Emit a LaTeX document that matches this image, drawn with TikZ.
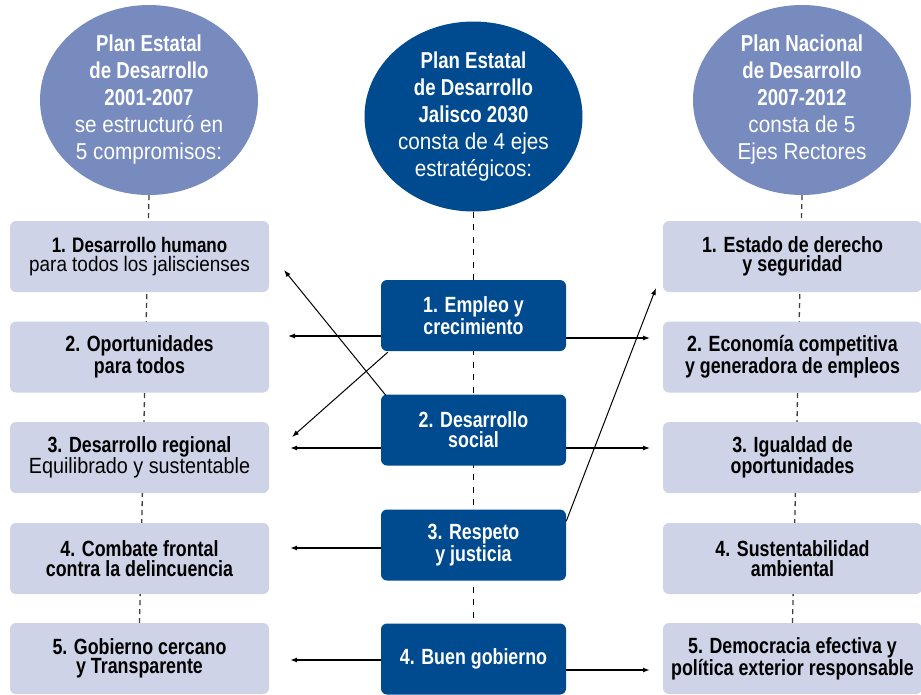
\documentclass[tikz,border=0pt]{standalone}
\usepackage{fontspec}
\setmainfont{Liberation Sans}
\newfontfamily\fcb{Liberation Sans}[FakeStretch=0.81]
\newfontfamily\fcr{Liberation Sans}[FakeStretch=0.9]
\usetikzlibrary{shapes.geometric,arrows.meta,calc,backgrounds}
\definecolor{ellside}{HTML}{778BBE}
\definecolor{navy}{HTML}{004A8F}
\definecolor{lightbox}{HTML}{CED3E7}
\newcommand{\rg}{\fcr\mdseries}
\begin{document}
\begin{tikzpicture}[x=1pt,y=-1pt,
  sidebox/.style={rectangle, rounded corners=6pt, fill=lightbox, minimum width=259pt,
    minimum height=71pt, inner sep=0pt, align=center, text=black,
    font=\fcb\bfseries\fontsize{22}{19.5}\selectfont},
  midbox/.style={rectangle, rounded corners=6pt, fill=navy, minimum width=185pt,
    minimum height=71pt, inner sep=0pt, align=center, text=white,
    font=\fcb\bfseries\fontsize{22}{20}\selectfont},
  plan/.style={ellipse, minimum width=218pt, minimum height=190pt, inner sep=0pt,
    align=center, text=white, font=\fcb\bfseries\fontsize{23}{27}\selectfont},
  arr/.style={-{Latex[length=7pt,width=5pt]}, line width=1.2pt, draw=black},
  darr/.style={-{Latex[length=7pt,width=5pt]}, line width=1pt, draw=black},
  sdash/.style={dash pattern=on 5pt off 4pt, line width=1.3pt, draw=black!75},
  cdash/.style={dash pattern=on 6pt off 6.5pt, line width=1.2pt, draw=black}]
\useasboundingbox (0,0) rectangle (921,694);

% ellipses
\node[plan, fill=ellside] (el) at (149,100)
  {Plan Estatal\\de Desarrollo\\2001-2007\\\rg se estructuró en\\\rg 5 compromisos:};
\node[plan, fill=navy] (ec) at (473.5,116.5)
  {Plan Estatal\\de Desarrollo\\Jalisco 2030\\\rg consta de 4 ejes\\\rg estratégicos:};
\node[plan, fill=ellside] (er) at (802,100)
  {Plan Nacional\\de Desarrollo\\2007-2012\\\rg consta de 5\\\rg Ejes Rectores};

% left column
\node[sidebox, font=\fcb\bfseries\fontsize{21}{19.5}\selectfont] (l1) at (139.5,256.5)
  {1. Desarrollo humano\\\rg para todos los jaliscienses};
\node[sidebox] (l2) at (139.5,357) {2. Oportunidades\\para todos};
\node[sidebox] (l3) at (139.5,457.5) {3. Desarrollo regional\\\rg Equilibrado y sustentable};
\node[sidebox] (l4) at (139.5,558.5) {4. Combate frontal\\contra la delincuencia};
\node[sidebox] (l5) at (139.5,658.5) {5. Gobierno cercano\\y Transparente};

% center column
\node[midbox] (c1) at (473.5,315.5) {1. Empleo y\\crecimiento};
\node[midbox] (c2) at (473.5,430) {2. Desarrollo\\social};
\node[midbox] (c3) at (473.5,545) {3. Respeto\\y justicia};
\node[midbox] (c4) at (473.5,659) {4. Buen gobierno};

% right column
\node[sidebox] (r1) at (792.5,256.5) {1. Estado de derecho\\y seguridad};
\node[sidebox] (r2) at (792.5,357) {2. Economía competitiva\\y generadora de empleos};
\node[sidebox] (r3) at (792.5,457.5) {3. Igualdad de\\oportunidades};
\node[sidebox] (r4) at (792.5,558.5) {4. Sustentabilidad\\ambiental};
\node[sidebox] (r5) at (792.5,658.5) {5. Democracia efectiva y\\política exterior responsable};

% dashed spines behind
\begin{scope}[on background layer]
  \fill[white] (0,0) rectangle (921,694);
  \draw[sdash] (el.south) -- (l5.north);
  \draw[sdash] (er.south) -- (r5.north);
  \draw[cdash] (ec.south) -- (c4.north);
\end{scope}

% free arrow ends
\coordinate (e1) at (288,336);
\coordinate (e2) at (650,338);
\coordinate (e3) at (292,437);
\coordinate (e4) at (284,270);
\coordinate (e5) at (290,448);
\coordinate (e6) at (650,448);
\coordinate (e7) at (656,288);
\coordinate (e8) at (290,548);
\coordinate (e9) at (290,660);
\coordinate (e10) at (650,670);

\draw[arr] ($(c1.west)+(0,20.5)$) -- (e1);
\draw[arr] ($(c1.east)+(0,22.5)$) -- (e2);
\draw[darr] ($(c1.south west)+(7,1)$) -- (e3);
\draw[darr] ($(c2.north west)+(5,1)$) -- (e4);
\draw[arr, line width=1.6pt] ($(c2.west)+(0,18)$) -- (e5);
\draw[arr] ($(c2.east)+(0,18)$) -- (e6);
\draw[darr] ($(c3.north east)+(0,12)$) -- (e7);
\draw[arr, line width=1.6pt] ($(c3.west)+(0,3)$) -- (e8);
\draw[arr, line width=1.6pt] ($(c4.west)+(0,1)$) -- (e9);
\draw[arr, line width=1.6pt] ($(c4.east)+(0,11)$) -- (e10);
\end{tikzpicture}
\end{document}
